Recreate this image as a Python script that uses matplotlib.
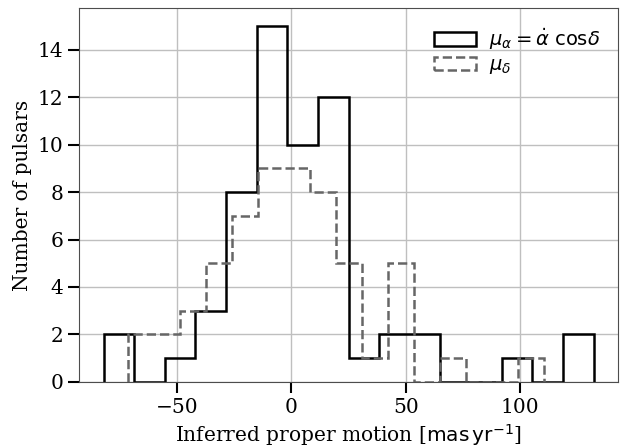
import numpy as np
import matplotlib.pyplot as plt

plt.rcParams['font.family'] = 'serif'
plt.rcParams['font.serif'] = ['DejaVu Serif']
plt.rcParams['mathtext.fontset'] = 'dejavusans'

# histogram bins and counts (mas/yr)
edges_ra = np.linspace(-82.0, 132.1, 17)
counts_ra = [2, 0, 1, 3, 8, 15, 10, 12, 1, 2, 2, 0, 0, 1, 0, 2]

edges_dec = np.linspace(-71.4, 110.3, 17)
counts_dec = [2, 2, 3, 5, 7, 9, 9, 8, 5, 1, 5, 0, 1, 0, 0, 1]

fig, ax = plt.subplots(figsize=(6.23, 4.47), dpi=100)
fig.subplots_adjust(left=0.127, right=0.992, bottom=0.146, top=0.981)

ax.hist(edges_ra[:-1], bins=edges_ra, weights=counts_ra, histtype='step',
        color='black', lw=1.8, label=r'$\mu_\alpha = \dot{\alpha}\ \mathrm{cos}\delta$')
ax.hist(edges_dec[:-1], bins=edges_dec, weights=counts_dec, histtype='step',
        color='0.4', lw=1.8, ls='--', label=r'$\mu_\delta$')

ax.set_ylim(0, 15.75)
ax.set_yticks([0, 2, 4, 6, 8, 10, 12, 14])
ax.set_xticks([-50, 0, 50, 100])
ax.grid(True, color='0.75', lw=1)
ax.set_axisbelow(True)
for s in ax.spines.values():
    s.set_color('0.3')

ax.tick_params(axis='both', labelsize=14.5, length=8, width=1.5, color='black')
ax.set_xlabel(r'Inferred proper motion [$\mathrm{mas\,yr^{-1}}$]', fontsize=14.5)
ax.set_ylabel('Number of pulsars', fontsize=14.5)
ax.legend(loc='upper right', frameon=False, fontsize=14, handlelength=2.15,
          labelspacing=0.25, handletextpad=0.7)

plt.savefig('out.png', dpi=100)
